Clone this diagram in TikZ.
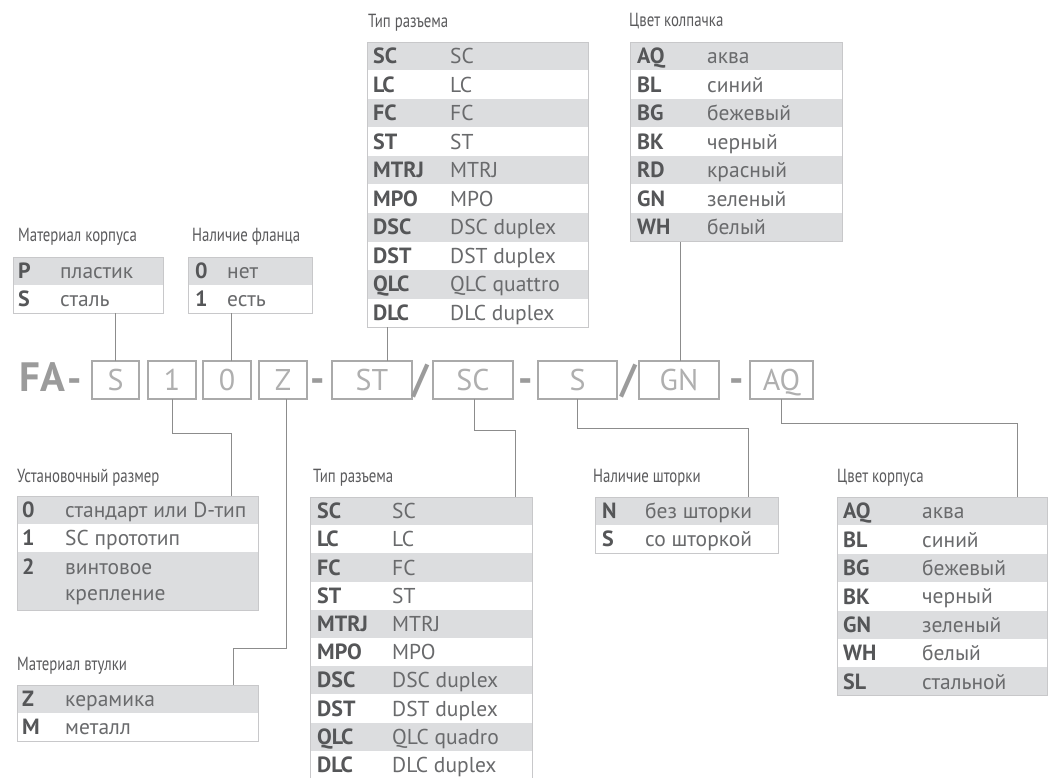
\documentclass[tikz,border=0pt]{standalone}
\usepackage{fontspec}
\setmainfont{PT Sans}
\newfontfamily\condf[FakeStretch=0.78]{PT Sans}
\definecolor{rowfill}{RGB}{220,221,223}
\definecolor{framec}{RGB}{200,200,202}
\definecolor{codec}{RGB}{85,86,88}
\definecolor{valc}{RGB}{105,106,108}
\definecolor{titlec}{RGB}{90,90,92}
\definecolor{connc}{RGB}{140,140,140}
\definecolor{boxc}{RGB}{170,170,170}
\definecolor{boxtc}{RGB}{175,175,175}
\definecolor{fac}{RGB}{155,155,155}
\tikzset{
  codet/.style={anchor=west, inner sep=0, text height=15.2pt, text depth=0pt, font=\fontsize{22}{25}\bfseries\selectfont, text=codec},
  valt/.style={anchor=west, inner sep=0, text height=15pt, text depth=0pt, font=\fontsize{21.5}{24}\selectfont, text=valc},
  titlet/.style={anchor=west, inner sep=0, text height=13.3pt, text depth=0pt, font=\condf\fontsize{19}{22}\selectfont, text=titlec},
  tabframe/.style={draw=framec, line width=0.9pt, anchor=north west, inner sep=0, outer sep=0},
  codebox/.style={draw=boxc, line width=1.1pt, minimum height=38pt, inner sep=0, outer sep=0, text height=21pt, text depth=0pt, font=\fontsize{30}{32}\selectfont, text=boxtc},
  sept/.style={anchor=base, inner sep=0, font=\fontsize{40}{44}\bfseries\selectfont, text=fac},
  conn/.style={draw=connc, line width=0.9pt},
}
\newcommand\mktab[8]{%
  \foreach [count=\i] \c/\v in {#8}{%
    \pgfmathsetmacro\yt{#4+(\i-1)*#5}%
    \ifodd\i\relax \fill[rowfill] (#2,\yt) rectangle (#3,\yt+#5);\fi
    \node[codet] (#1-c\i) at (#6,\yt+#5/2) {\c};
    \node[valt] (#1-v\i) at (#7,\yt+#5/2) {\v};
    \xdef\nrows{\i}%
  }%
  \pgfmathsetmacro\tabh{\nrows*#5}%
  \node[tabframe, minimum width={(#3-#2)*1pt}, minimum height={\tabh*1pt}] (#1) at (#2,#4) {};
}
\begin{document}
\begin{tikzpicture}[x=1pt,y=-1pt]
\useasboundingbox (0,0) rectangle (1052,778);
\fill[white] (0,0) rectangle (1052,778);

% ---------- titles ----------
\node[titlet] (ti1) at (18,235) {Материал корпуса};
\node[titlet] (ti2) at (192,235) {Наличие фланца};
\node[titlet] (ti3) at (368,21) {Тип разъема};
\node[titlet] (ti4) at (629,20) {Цвет колпачка};
\node[titlet] (ti5) at (17,476) {Установочный размер};
\node[titlet] (ti6) at (313,476) {Тип разъема};
\node[titlet] (ti7) at (593,476) {Наличие шторки};
\node[titlet] (ti8) at (837,476) {Цвет корпуса};
\node[titlet] (ti9) at (17,664) {Материал втулки};

% ---------- tables ----------
\mktab{tMat}{13}{163}{257}{28}{18}{60}{P/пластик,S/сталь}
\mktab{tFl}{188}{312}{257}{28}{195}{227}{0/нет,1/есть}
\mktab{tTipA}{367}{588}{42}{28.5}{373}{450}{SC/SC,LC/LC,FC/FC,ST/ST,MTRJ/MTRJ,MPO/MPO,DSC/DSC duplex,DST/DST duplex,QLC/QLC quattro,DLC/DLC duplex}
\mktab{tCol}{630}{842}{42}{28.5}{637}{707}{AQ/аква,BL/синий,BG/бежевый,BK/черный,RD/красный,GN/зеленый,WH/белый}
\mktab{tTipB}{310}{532}{497}{28.2}{317}{392}{SC/SC,LC/LC,FC/FC,ST/ST,MTRJ/MTRJ,MPO/MPO,DSC/DSC duplex,DST/DST duplex,QLC/QLC quadro,DLC/DLC duplex}
\mktab{tSh}{595}{778}{497}{28}{602}{645}{N/без шторки,S/со шторкой}
\mktab{tKorp}{837}{1047}{497}{28.4}{843}{922}{AQ/аква,BL/синий,BG/бежевый,BK/черный,GN/зеленый,WH/белый,SL/стальной}
\mktab{tVt}{17}{258}{685}{28}{22}{65}{Z/керамика,M/металл}

% Установочный размер (row 2 is two lines high)
\fill[rowfill] (17,496) rectangle (258,524);
\fill[rowfill] (17,552) rectangle (258,610);
\node[codet] (u0) at (22,510) {0};
\node[valt] (u0v) at (65,510) {стандарт или D-тип};
\node[codet] (u1) at (22,538) {1};
\node[valt] (u1v) at (65,538) {SC прототип};
\node[codet] (u2) at (22,567) {2};
\node[valt] (u2v) at (65,567) {винтовое};
\node[valt] (u2w) at (65,593) {крепление};
\node[tabframe, minimum width=241pt, minimum height=114pt] (tUst) at (17,496) {};

% ---------- code line ----------
\node[anchor=west, inner sep=0, text height=28.7pt, text depth=0pt, font=\fontsize{41}{44}\bfseries\selectfont, text=fac] (fa) at (19,377.5) {FA};
\node[sept] (d1) at (75,392) {-};
\node[codebox, minimum width=47pt] (bS) at (115.5,380) {S};
\node[codebox, minimum width=48pt] (b1) at (172,380) {1};
\node[codebox, minimum width=48pt] (b0) at (227,380) {0};
\node[codebox, minimum width=48pt] (bZ) at (283,380) {Z};
\node[sept] (d2) at (318,392) {-};
\node[codebox, minimum width=80pt] (bST) at (372,380) {ST};
\node[sept] (s1) at (421,392) {/};
\node[codebox, minimum width=80pt] (bSC) at (473,380) {SC};
\node[sept] (d3) at (526,392) {-};
\node[codebox, minimum width=79pt] (bSh) at (577.5,380) {S};
\node[sept] (s2) at (629,392) {/};
\node[codebox, minimum width=80pt] (bGN) at (679,380) {GN};
\node[sept] (d4) at (737,392) {-};
\node[codebox, minimum width=63pt] (bAQ) at (781.5,380) {AQ};

% ---------- connectors ----------
\draw[conn] (bS.north) -- (bS.north |- tMat.south);
\draw[conn] ([xshift=4pt]b0.north) -- ([xshift=4pt]b0.north |- tFl.south);
\draw[conn] ([xshift=15pt]bST.north) -- ([xshift=15pt]bST.north |- tTipA.south);
\draw[conn] ([xshift=1pt]bGN.north) -- ([xshift=1pt]bGN.north |- tCol.south);

\coordinate (k1) at (231,433);
\draw[conn] (b1.south) |- (k1) -- (k1 |- tUst.north);
\coordinate (kz) at (233,648);
\draw[conn] ([xshift=3pt]bZ.south) |- (kz) -- (kz |- tVt.north);
\coordinate (ksc) at (515,430);
\draw[conn] ([xshift=1pt]bSC.south) |- (ksc) -- (ksc |- tTipB.north);
\coordinate (ksh) at (748,428);
\draw[conn] (bSh.south) |- (ksh) -- (ksh |- tSh.north);
\coordinate (kaq) at (1017,423);
\draw[conn] (bAQ.south) |- (kaq) -- (kaq |- tKorp.north);
\end{tikzpicture}
\end{document}
